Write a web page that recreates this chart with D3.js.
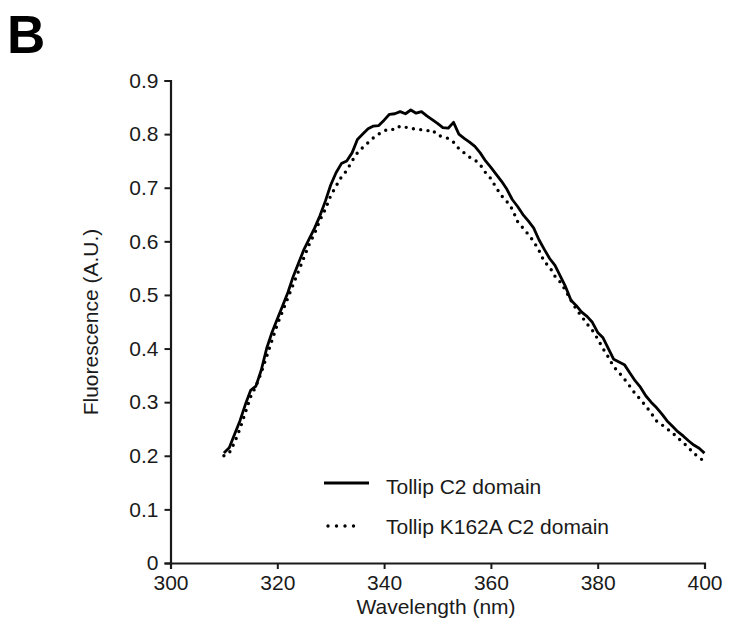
<!DOCTYPE html>
<html><head><meta charset="utf-8">
<script src="https://cdn.jsdelivr.net/npm/d3@7"></script>
<style>
html,body{margin:0;padding:0;background:#fff;}
svg{display:block;font-family:"Liberation Sans",Arial,Helvetica,sans-serif;}
</style></head>
<body>
<svg id="chart" width="730" height="642"></svg>
<script>
const wavelengths = d3.range(310, 401);
const wildType = [
 0.205,0.215,0.240,0.265,0.295,0.322,0.330,0.360,0.400,0.430,
 0.455,0.480,0.505,0.535,0.560,0.585,0.605,0.625,0.648,0.675,
 0.705,0.728,0.745,0.750,0.765,0.790,0.800,0.810,0.815,0.816,
 0.826,0.837,0.838,0.842,0.838,0.845,0.839,0.842,0.834,0.827,
 0.820,0.812,0.811,0.822,0.800,0.792,0.785,0.777,0.765,0.750,
 0.738,0.725,0.712,0.697,0.678,0.665,0.650,0.638,0.625,0.603,
 0.585,0.568,0.555,0.535,0.515,0.490,0.480,0.468,0.460,0.449,
 0.430,0.420,0.400,0.380,0.375,0.370,0.355,0.340,0.328,0.312,
 0.300,0.290,0.278,0.265,0.255,0.245,0.237,0.228,0.220,0.214,
 0.205];
const mutant = [
 0.200,0.205,0.225,0.250,0.280,0.310,0.330,0.355,0.385,0.415,
 0.445,0.470,0.495,0.520,0.545,0.570,0.595,0.615,0.640,0.660,
 0.685,0.703,0.720,0.732,0.750,0.765,0.775,0.784,0.793,0.800,
 0.806,0.810,0.808,0.815,0.813,0.810,0.810,0.808,0.806,0.808,
 0.798,0.795,0.792,0.785,0.773,0.765,0.757,0.752,0.743,0.728,
 0.717,0.700,0.685,0.674,0.660,0.637,0.625,0.613,0.600,0.583,
 0.562,0.552,0.535,0.524,0.508,0.490,0.473,0.460,0.446,0.434,
 0.418,0.400,0.384,0.366,0.355,0.343,0.330,0.316,0.305,0.293,
 0.280,0.265,0.258,0.250,0.243,0.233,0.225,0.215,0.205,0.196,
 0.190];
const xTicks = [300,320,340,360,380,400];
const yTicks = [0,0.1,0.2,0.3,0.4,0.5,0.6,0.7,0.8,0.9];
const seriesNames = ["Tollip C2 domain","Tollip K162A C2 domain"];

const svg = d3.select("#chart");
const ink = "#1a1a1a";
const fs = 21;
const x = d3.scaleLinear().domain([300,400]).range([170.5,704.5]);
const y = d3.scaleLinear().domain([0,0.9]).range([563,80.5]);

svg.append("text").attr("x",7).attr("y",53).attr("font-size",53).attr("font-weight","bold")
  .attr("fill","#000").text("B");

const xAxis = svg.append("g").attr("transform","translate(0,563)")
  .call(d3.axisBottom(x).tickValues(xTicks).tickSize(6).tickPadding(6).tickFormat(d3.format("d")));
const yAxis = svg.append("g").attr("transform","translate(170.5,0)")
  .call(d3.axisLeft(y).tickValues(yTicks).tickSize(6).tickPadding(6).tickFormat(d => d===0?"0":d3.format(".1f")(d)));
[xAxis,yAxis].forEach(g=>{
  g.select(".domain").attr("stroke",ink).attr("stroke-width",2.2);
  g.selectAll(".tick line").attr("stroke",ink).attr("stroke-width",2);
  g.selectAll(".tick text").attr("fill",ink).attr("font-size",fs).attr("font-family","Liberation Sans, Arial, sans-serif");
});

svg.append("text").attr("x",436).attr("y",614).attr("text-anchor","middle")
  .attr("font-size",fs).attr("fill",ink).text("Wavelength (nm)");
svg.append("text").attr("transform","translate(98,322) rotate(-90)").attr("text-anchor","middle")
  .attr("font-size",fs).attr("fill",ink).text("Fluorescence (A.U.)");

const line = d3.line().x((d,i)=>x(wavelengths[i])).y(d=>y(d));
svg.append("path").datum(wildType).attr("d",line).attr("fill","none")
  .attr("stroke","#000").attr("stroke-width",2.8).attr("stroke-linejoin","round");
svg.append("path").datum(mutant).attr("d",line).attr("fill","none")
  .attr("stroke","#000").attr("stroke-width",3.4).attr("stroke-linecap","round")
  .attr("stroke-dasharray","0,7.4");

// legend
const lg = svg.append("g");
lg.append("line").attr("x1",324).attr("x2",369).attr("y1",483).attr("y2",483)
  .attr("stroke","#000").attr("stroke-width",2.8);
lg.append("line").attr("x1",328).attr("x2",362).attr("y1",526).attr("y2",526)
  .attr("stroke","#000").attr("stroke-width",3.4).attr("stroke-linecap","round").attr("stroke-dasharray","0,8.5");
lg.append("text").attr("x",386).attr("y",494).attr("font-size",fs).attr("fill",ink).text(seriesNames[0]);
lg.append("text").attr("x",386).attr("y",534).attr("font-size",fs).attr("fill",ink).text(seriesNames[1]);
</script>
</body></html>
